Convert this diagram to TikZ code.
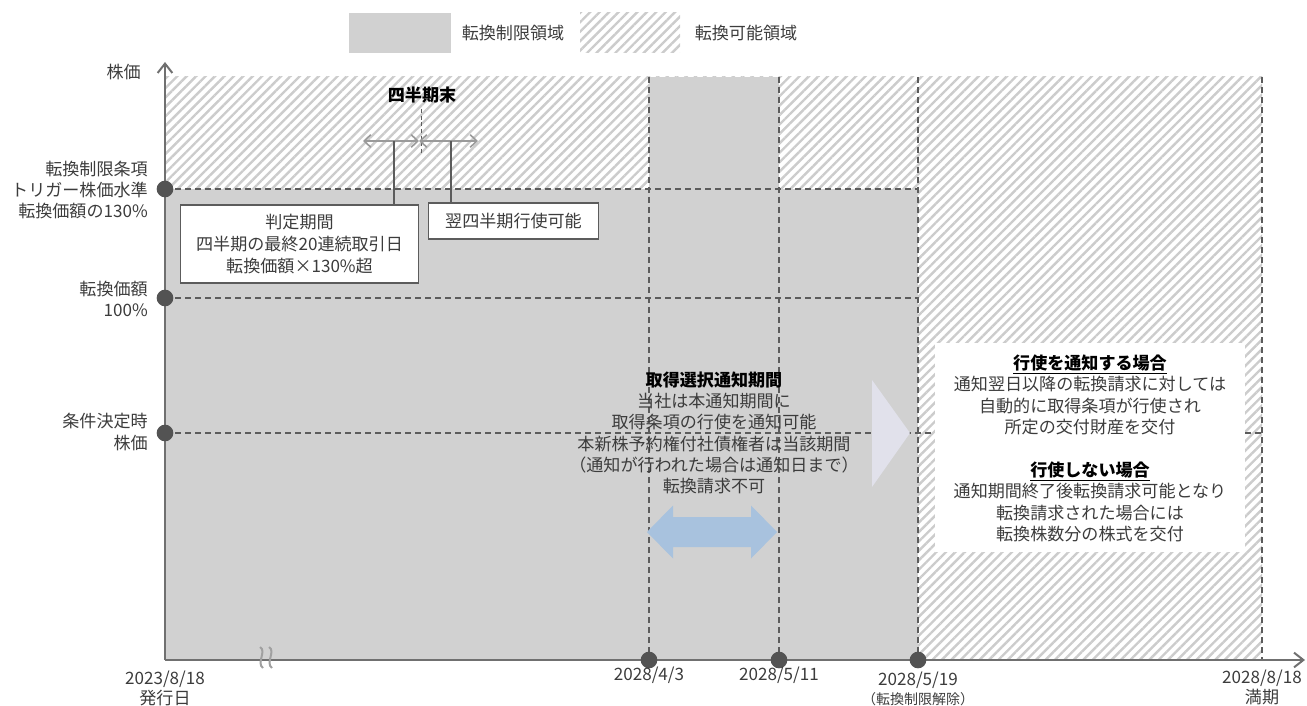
\documentclass[tikz,border=0pt]{standalone}
\usepackage{fontspec}
\setmainfont{Noto Sans CJK JP}
\usetikzlibrary{arrows.meta,patterns.meta}
\definecolor{txt}{HTML}{3C3C3C}
\definecolor{restr}{HTML}{D1D1D1}
\definecolor{hatchc}{HTML}{CCCCCC}
\definecolor{dashc}{HTML}{5C5C5C}
\definecolor{axisc}{HTML}{707070}
\definecolor{dotc}{HTML}{535353}
\definecolor{bluearr}{HTML}{A8C2DE}
\definecolor{trifill}{HTML}{E1E1EB}
\definecolor{smallarr}{HTML}{9A9A9A}
\definecolor{breakc}{HTML}{A0A0A0}
\tikzset{
  hatchfill/.style={pattern={Lines[angle=45,distance=5pt,line width=1.8pt]},pattern color=hatchc},
  gridline/.style={draw=dashc,line width=0.8pt,dash pattern=on 4.5pt off 3pt},
  axisline/.style={draw=axisc,line width=1.5pt},
  axdot/.style={circle,fill=dotc,minimum size=12.5pt,inner sep=0pt},
  lbl/.style={text=txt,font=\fontsize{12.8}{16}\selectfont,inner sep=0pt},
  xlbl/.style={text=txt,font=\fontsize{12.8}{15}\selectfont,inner sep=0pt,align=center},
  infobox/.style={draw=dashc,line width=0.9pt,fill=white,text=txt,font=\fontsize{12.8}{16.5}\selectfont,align=center,inner sep=0pt},
  smarrow/.style={draw=smallarr,line width=1.2pt,arrows={Straight Barb[length=5pt,width=9.5pt]-Straight Barb[length=5pt,width=9.5pt]}},
  leader/.style={draw=dashc,line width=1pt},
  axtip/.style={-{Straight Barb[length=7pt,width=11pt]}},
}
\begin{document}
\begin{tikzpicture}[x=0.75pt,y=-0.75pt]
\useasboundingbox (0,0) rectangle (1307,706);
% legend
\fill[restr] (349,13) rectangle (451,53);
\node[lbl] (legR) at (513,33) {転換制限領域};
\path[hatchfill] (580,13) rectangle (680,53);
\node[lbl] (legP) at (746,33) {転換可能領域};
% positions
\coordinate (orig) at (165,660);
\coordinate (pTrig) at (165,189);
\coordinate (pConv) at (165,298);
\coordinate (pInit) at (165,433);
\coordinate (pApr) at (649,660);
\coordinate (pMay11) at (779,660);
\coordinate (pMay19) at (918,660);
\coordinate (pMat) at (1262,660);
\coordinate (tApr) at (649,77);
\coordinate (tMay11) at (779,77);
\coordinate (tMay19) at (918,77);
\coordinate (tMat) at (1262,77);
% regions
\path[hatchfill] (166,77) rectangle (1262,660);
\fill[restr] (166,189) rectangle (918,660);
\fill[restr] (649,77) rectangle (779,189);
% grid lines
\draw[gridline] (pTrig) -- (pTrig -| pMay19);
\draw[gridline] (pConv) -- (pConv -| pMay19);
\draw[gridline] (pInit) -- (pInit -| pMat);
\draw[gridline] (tApr) -- (pApr);
\draw[gridline] (tMay11) -- (pMay11);
\draw[gridline] (tMay19) -- (pMay19);
\draw[gridline] (tMat) -- (pMat);
% chevron and blue double arrow
\fill[trifill] (872,380) -- (910,433) -- (872,487) -- cycle;
\fill[bluearr] (647,532) -- (673,505.5) -- (673,517) -- (751,517) -- (751,505.5) -- (777,532)
  -- (751,558.5) -- (751,547) -- (673,547) -- (673,558.5) -- cycle;
% white info box
\fill[white] (935,343) rectangle (1245,552);
% axes
\draw[axisline,axtip] (orig) -- (165,62);
\draw[axisline,axtip] (orig) -- (1305,660);
% break mark
\draw[breakc,line width=1.5pt] (260,647) .. controls (267,651) and (256,663) .. (263,668);
\draw[breakc,line width=1.5pt] (269,647) .. controls (276,651) and (265,663) .. (272,668);
% dots
\node[axdot] (dTrig) at (pTrig) {};
\node[axdot] (dConv) at (pConv) {};
\node[axdot] (dInit) at (pInit) {};
\node[axdot] (dApr) at (pApr) {};
\node[axdot] (dMay11) at (pMay11) {};
\node[axdot] (dMay19) at (pMay19) {};
% y labels
\node[lbl,anchor=east] (yl0) at (141,72) {株価};
\node[lbl,anchor=east,align=right] (yl1) at (148,190) {転換制限条項\\トリガー株価水準\\転換価額の130\%};
\node[lbl,anchor=east,align=right] (yl2) at (148,299) {転換価額\\100\%};
\node[lbl,anchor=east,align=right] (yl3) at (148,432) {条件決定時\\株価};
% x labels
\node[xlbl] (xl0) at (165,688) {2023/8/18\\発行日};
\node[xlbl] (xl1) at (649,675) {2028/4/3};
\node[xlbl] (xl2) at (779,675) {2028/5/11};
\node[xlbl] (xl3) at (918,680) {2028/5/19};
\node[xlbl,font=\fontsize{10.5}{11}\selectfont] (xl3b) at (918,699) {（転換制限解除）};
\node[xlbl] (xl4) at (1262,687) {2028/8/18\\満期};
% quarter end
\node[lbl,text=black,font=\fontsize{12.8}{16}\selectfont\bfseries] (qend) at (422,95) {四半期末};
\coordinate (qtop) at (421,109);
\coordinate (qbot) at (421,155);
\draw[draw=dashc,line width=0.6pt,dash pattern=on 3pt off 2pt] (qtop) -- (qbot);
\coordinate (qL) at (363,141);
\coordinate (qM) at (419,141);
\coordinate (qR) at (478,141);
\draw[smarrow] (qL) -- (qM);
\draw[smarrow] (qM) -- (qR);
\coordinate (jA) at (394,141);
\coordinate (jB) at (451,141);
\node[infobox,minimum width=179pt,minimum height=58.5pt] (box1) at (299.5,244)
  {判定期間\\四半期の最終20連続取引日\\転換価額×130\%超};
\node[infobox,minimum width=128pt,minimum height=27pt] (box2) at (513.5,221) {翌四半期行使可能};
\draw[leader] (jA) -- (jA |- box1.north);
\draw[leader] (jB) -- (jB |- box2.north);
% notice period text
\node[lbl,align=center] (notice) at (714,433)
  {{\color{black}\bfseries 取得選択通知期間}\\当社は本通知期間に\\取得条項の行使を通知可能\\本新株予約権付社債権者は当該期間\\（通知が行われた場合は通知日まで）\\転換請求不可};
% right box texts
\node[lbl,align=center] (caseA) at (1090,395)
  {{\color{black}\bfseries\underline{行使を通知する場合}}\\通知翌日以降の転換請求に対しては\\自動的に取得条項が行使され\\所定の交付財産を交付};
\node[lbl,align=center] (caseB) at (1090,502)
  {{\color{black}\bfseries\underline{行使しない場合}}\\通知期間終了後転換請求可能となり\\転換請求された場合には\\転換株数分の株式を交付};
\end{tikzpicture}
\end{document}
